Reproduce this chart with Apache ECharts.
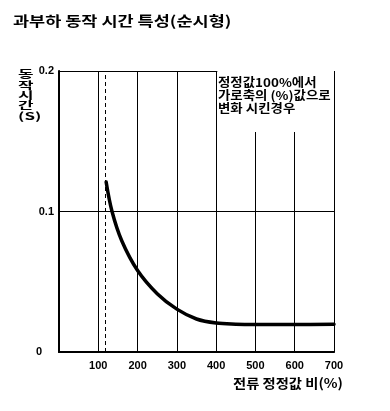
<!DOCTYPE html>
<html><head><meta charset="utf-8">
<script src="https://cdn.jsdelivr.net/npm/echarts@6/dist/echarts.min.js"></script>
<style>html,body{margin:0;padding:0;background:#fff}#c{width:390px;height:411px}</style>
</head><body><div id="c"></div>
<script>
const titleText = '과부하 동작 시간 특성(순시형)';
const yAxisName = ['동', '작', '시', '간', '(S)'];
const xAxisName = '전류 정정값 비(%)';
const noteText = ['정정값100%에서', '가로축의 (%)값으로', '변화 시킨경우'];
const xRange = [0, 700, 100];
const yRange = [0, 0.2, 0.1];
const currentRatio = [120, 135, 160, 200, 250, 300, 350, 400, 450, 500, 600, 700];
const operateTime = [0.121, 0.100, 0.079, 0.058, 0.0415, 0.0305, 0.0235, 0.0206, 0.0198, 0.0196, 0.0196, 0.0197];
const settingLine = 117;
const noteX = [403, 700];
const noteY = [0.1566, 0.2];

const CJK = '"Noto Sans CJK KR", sans-serif';
const NUM = '"Liberation Sans", Arial, sans-serif';
const chart = echarts.init(document.getElementById('c'), null, {renderer: 'canvas'});
const baseLabel = {color: '#000', fontFamily: NUM, fontWeight: 'bold', fontSize: 11};
function txt(text, x, y, size, lh, sx, sy) {
  return {type: 'text', x: x, y: y, scaleX: sx, scaleY: sy || 1, z: 100,
    style: {text: text, fill: '#000', font: 'bold ' + size + 'px ' + CJK, lineHeight: lh, verticalAlign: 'top', align: 'left'}};
}
chart.setOption({
  backgroundColor: '#fff',
  animation: false,
  graphic: [
    txt(titleText, 13, 13, 14, 16, 1.25),
    txt(yAxisName.join('\n'), 18, 69, 13, 13, 1.3, 0.8),
    txt(xAxisName, 233, 376, 13, 15, 1.1),
    txt(noteText.join('\n'), 218, 76, 12, 13, 1.12)
  ],
  grid: {left: 59, right: 56, top: 71, bottom: 59},
  xAxis: [
    {type: 'value', min: xRange[0], max: xRange[1], interval: xRange[2],
     axisLine: {show: true, lineStyle: {color: '#000', width: 2}}, axisTick: {show: false},
     splitLine: {show: true, lineStyle: {color: '#000', width: 1}},
     axisLabel: Object.assign({margin: 8, formatter: v => v === 0 ? '' : String(v)}, baseLabel)},
    {type: 'value', position: 'top', min: xRange[0], max: xRange[1], interval: xRange[2], z: 10,
     axisLine: {show: true, lineStyle: {color: '#000', width: 1}}, axisTick: {show: false},
     axisLabel: {show: false}, splitLine: {show: false}}
  ],
  yAxis: [
    {type: 'value', min: yRange[0], max: yRange[1], interval: yRange[2],
     axisLine: {show: true, lineStyle: {color: '#000', width: 2}}, axisTick: {show: false},
     splitLine: {show: true, lineStyle: {color: '#000', width: 1}},
     axisLabel: Object.assign({margin: 5, formatter: v => v === 0 ? '{z|0}' : v.toFixed(1),
       rich: {z: {padding: [0, 12, 0, 0], color: '#000', fontFamily: NUM, fontWeight: 'bold', fontSize: 11}}}, baseLabel)},
    {type: 'value', position: 'right', min: yRange[0], max: yRange[1], interval: yRange[2], z: 10,
     axisLine: {show: true, lineStyle: {color: '#000', width: 1}}, axisTick: {show: false},
     axisLabel: {show: false}, splitLine: {show: false}}
  ],
  series: [{
    type: 'line', xAxisIndex: 0, yAxisIndex: 0,
    data: currentRatio.map((x, i) => [x, operateTime[i]]),
    smooth: 0.35, showSymbol: false, symbol: 'none',
    lineStyle: {color: '#000', width: 3.5, cap: 'round'},
    markLine: {silent: true, symbol: 'none', label: {show: false},
      lineStyle: {color: '#000', width: 1, type: [4, 3]},
      data: [{xAxis: settingLine}]},
    markArea: {silent: true, itemStyle: {color: '#fff'}, label: {show: false},
      data: [[{xAxis: noteX[0], yAxis: noteY[0]}, {xAxis: noteX[1], yAxis: noteY[1]}]]}
  }]
});
</script></body></html>
